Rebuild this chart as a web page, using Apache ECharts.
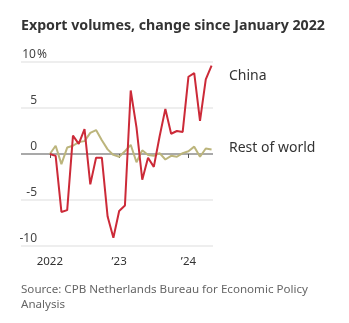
<!DOCTYPE html>
<html>
<head>
<meta charset="utf-8">
<script src="https://cdn.jsdelivr.net/npm/echarts@6/dist/echarts.min.js"></script>
<style>
html,body{margin:0;padding:0;background:#fff;}
#c{width:349px;height:323px;}
</style>
</head>
<body>
<div id="c"></div>
<script>
const months = ['Jan 2022','Feb 2022','Mar 2022','Apr 2022','May 2022','Jun 2022','Jul 2022','Aug 2022','Sep 2022','Oct 2022','Nov 2022','Dec 2022',
  'Jan 2023','Feb 2023','Mar 2023','Apr 2023','May 2023','Jun 2023','Jul 2023','Aug 2023','Sep 2023','Oct 2023','Nov 2023','Dec 2023',
  'Jan 2024','Feb 2024','Mar 2024','Apr 2024','May 2024'];
const china = [0, -0.2, -6.3, -6.1, 2.0, 1.1, 2.7, -3.3, -0.4, -0.4, -6.8, -9.1, -6.2, -5.6, 6.9, 2.9, -2.8, -0.4, -1.4, 1.9, 4.9, 2.2, 2.5, 2.4, 8.4, 8.8, 3.6, 8.1, 9.6];
const restOfWorld = [0, 0.9, -1.1, 0.7, 0.9, 1.3, 1.4, 2.3, 2.6, 1.5, 0.5, -0.1, -0.3, 0.3, 1.0, -0.9, 0.4, -0.1, -0.2, 0.1, -0.6, -0.2, -0.3, 0.1, 0.3, 0.8, -0.3, 0.6, 0.5];
const xTickIdx = [0, 12, 24];
const xTickLabels = ['2022', '\u201923', '\u201924'];
const yTicks = [-10, -5, 0, 5, 10];

const FONT = 'Noto Sans';
const chart = echarts.init(document.getElementById('c'), null, {renderer: 'canvas'});
const toPairs = arr => arr.map((v, i) => [i, v]);

chart.setOption({
  animation: false,
  backgroundColor: '#fff',
  title: {
    text: 'Export volumes, change since January 2022',
    left: 16, top: 14,
    textStyle: {fontFamily: FONT, fontSize: 14.2, fontWeight: 'bold', color: '#333'}
  },
  grid: {left: 21, right: 136, top: 62, bottom: 77, containLabel: false},
  xAxis: {
    type: 'value', min: -5, max: 28.25,
    splitLine: {show: false},
    axisLine: {show: false},
    axisTick: {show: true, length: 4, lineStyle: {color: '#555', width: 1}, customValues: xTickIdx},
    axisLabel: {
      customValues: xTickIdx, margin: 10,
      formatter: v => xTickLabels[xTickIdx.indexOf(v)],
      fontFamily: FONT, fontSize: 11.5, color: '#333'
    }
  },
  yAxis: {
    type: 'value', min: -10, max: 10, interval: 5,
    axisLine: {show: false}, axisTick: {show: false},
    splitLine: {lineStyle: {color: ['#e8e8e8', '#e8e8e8', '#8c8c8c', '#e8e8e8', '#e8e8e8'], width: 1.5}},
    axisLabel: {
      inside: true, align: 'left', margin: 0, verticalAlign: 'bottom',
      padding: [0, 0, 1, 0],
      formatter: v => v === 10 ? '{n|10}{p|%}' : '{n|' + v + '}',
      rich: {
        n: {width: 16, align: 'right', fontFamily: FONT, fontSize: 12, color: '#444'},
        p: {align: 'left', fontFamily: FONT, fontSize: 12, color: '#444'}
      }
    }
  },
  series: [
    {
      name: 'Rest of world', type: 'line', data: toPairs(restOfWorld),
      showSymbol: false, lineStyle: {color: '#bcb57c', width: 2}, z: 2
    },
    {
      name: 'China', type: 'line', data: toPairs(china),
      showSymbol: false, lineStyle: {color: '#cc2a38', width: 2}, z: 3
    }
  ],
  graphic: [
    {type: 'text', left: 229, top: 69, style: {text: 'China', fontFamily: FONT, fontSize: 14, fill: '#333'}},
    {type: 'text', left: 229, top: 141, style: {text: 'Rest of world', fontFamily: FONT, fontSize: 14, fill: '#333'}},
    {type: 'text', left: 21, top: 282, style: {text: 'Source: CPB Netherlands Bureau for Economic Policy\nAnalysis', fontFamily: FONT, fontSize: 11.6, lineHeight: 15, fill: '#666'}}
  ]
});
</script>
</body>
</html>
